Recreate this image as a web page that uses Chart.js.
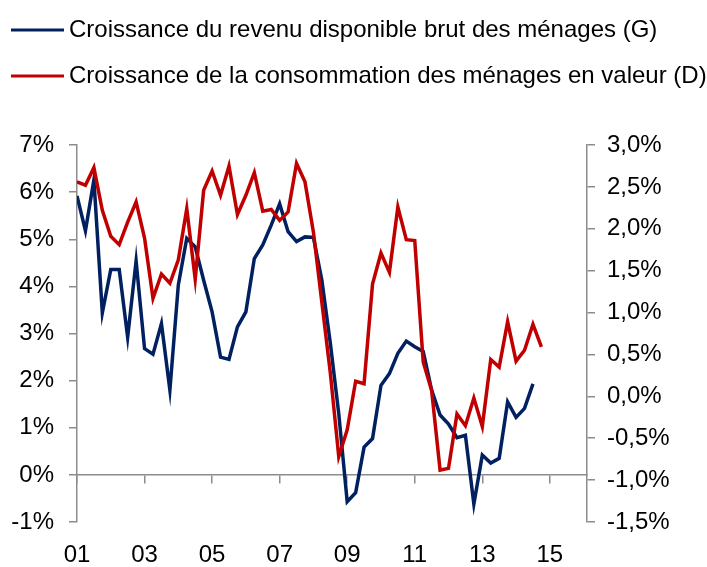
<!DOCTYPE html>
<html><head><meta charset="utf-8">
<script src="https://cdn.jsdelivr.net/npm/chart.js@4/dist/chart.umd.min.js"></script>
<style>html,body{margin:0;padding:0;background:#fff}#wrap{position:relative;width:707px;height:567px}</style>
</head><body><div id="wrap"><canvas id="c" width="707" height="567"></canvas></div>
<script>
const quarters = [
 '2001T1','2001T2','2001T3','2001T4','2002T1','2002T2','2002T3','2002T4',
 '2003T1','2003T2','2003T3','2003T4','2004T1','2004T2','2004T3','2004T4',
 '2005T1','2005T2','2005T3','2005T4','2006T1','2006T2','2006T3','2006T4',
 '2007T1','2007T2','2007T3','2007T4','2008T1','2008T2','2008T3','2008T4',
 '2009T1','2009T2','2009T3','2009T4','2010T1','2010T2','2010T3','2010T4',
 '2011T1','2011T2','2011T3','2011T4','2012T1','2012T2','2012T3','2012T4',
 '2013T1','2013T2','2013T3','2013T4','2014T1','2014T2','2014T3','2014T4'
];
const yearTicks = ['01','03','05','07','09','11','13','15'];
// Croissance du revenu disponible brut (axe gauche, %)
const revenu = [
 5.92,5.18,6.26,3.44,4.36,4.36,2.92,4.54,
 2.68,2.56,3.21,1.80,4.03,5.02,4.84,4.13,
 3.46,2.50,2.45,3.14,3.46,4.59,4.88,5.30,
 5.75,5.16,4.95,5.05,5.04,4.13,2.80,1.30,
 -0.57,-0.38,0.59,0.77,1.90,2.15,2.58,2.84,
 2.72,2.62,1.80,1.27,1.08,0.79,0.84,-0.62,
 0.42,0.25,0.35,1.55,1.22,1.41,1.93
];
// Croissance de la consommation en valeur (axe droit, %)
const consommation = [
 2.56,2.52,2.73,2.22,1.91,1.81,2.08,2.32,
 1.89,1.17,1.46,1.35,1.63,2.24,1.40,2.46,
 2.69,2.40,2.75,2.17,2.40,2.67,2.21,2.23,
 2.10,2.20,2.78,2.56,1.96,1.12,0.28,-0.72,
 -0.40,0.18,0.15,1.34,1.71,1.48,2.26,1.87,
 1.86,0.41,0.07,-0.88,-0.86,-0.21,-0.35,-0.02,
 -0.36,0.44,0.35,0.89,0.42,0.55,0.86,0.59
];
const seriesLabels = [
 'Croissance du revenu disponible brut des ménages (G)',
 'Croissance de la consommation des ménages en valeur (D)'
];

const FONT = 'Liberation Sans, Arial, sans-serif';
const axisColor = '#8c8c8c';
const xMax = 60.4;
// one tick every 8 quarters (every 2 years), at the quarter index of each year label
const setYearTicks = s => { s.ticks = yearTicks.map((_, i) => ({ value: i * 8 })); };

const legendPlugin = {
  id: 'lineLegend',
  afterDraw(chart) {
    const ctx = chart.ctx;
    ctx.save();
    ctx.font = '24px ' + FONT;
    ctx.textBaseline = 'middle';
    ctx.textAlign = 'left';
    [0, 1].forEach(i => {
      const ds = chart.data.datasets[i];
      const y = 30 + 46 * i;
      ctx.strokeStyle = ds.borderColor;
      ctx.lineWidth = 3;
      ctx.beginPath(); ctx.moveTo(11, y); ctx.lineTo(64, y); ctx.stroke();
      ctx.fillStyle = '#000';
      ctx.fillText(ds.label, 69, y);
    });
    ctx.restore();
  }
};

new Chart(document.getElementById('c'), {
  type: 'line',
  data: {
    datasets: [
      { label: seriesLabels[0], data: revenu.map((v, i) => ({ x: i, y: v })),
        borderColor: '#002060', backgroundColor: '#002060', borderWidth: 3.5,
        pointRadius: 0, tension: 0, yAxisID: 'y', xAxisID: 'x', order: 2 },
      { label: seriesLabels[1], data: consommation.map((v, i) => ({ x: i, y: v })),
        borderColor: '#C00000', backgroundColor: '#C00000', borderWidth: 3.5,
        pointRadius: 0, tension: 0, yAxisID: 'y1', xAxisID: 'x', order: 1 }
    ]
  },
  options: {
    responsive: false, animation: false, devicePixelRatio: 1,
    layout: { padding: { top: 145, left: 0, right: 0, bottom: 0 } },
    plugins: { legend: { display: false }, tooltip: { enabled: false } },
    scales: {
      x: {
        type: 'linear', position: 'bottom', min: 0, max: xMax,
        grid: { display: false, drawTicks: false }, border: { display: false },
        ticks: { autoSkip: false, maxRotation: 0, padding: 19, color: '#000',
                 font: { size: 24, family: FONT },
                 callback: v => yearTicks[Math.round(v / 8)] ?? '' },
        afterBuildTicks: setYearTicks,
        afterFit: s => { s.height = 45; }
      },
      x0: {
        type: 'linear', position: { y: 0 }, min: 0, max: xMax,
        grid: { display: true, drawOnChartArea: false, drawTicks: true, tickLength: 8,
                color: axisColor, lineWidth: 1.5 },
        border: { display: true, color: axisColor, width: 1.5 },
        ticks: { display: false },
        afterBuildTicks: setYearTicks
      },
      y: {
        type: 'linear', position: 'left', min: -1, max: 7,
        grid: { drawOnChartArea: false, drawTicks: true, tickLength: 8, color: axisColor, lineWidth: 1.5 },
        border: { display: true, color: axisColor, width: 1.5 },
        ticks: { stepSize: 1, padding: 15, color: '#000', font: { size: 24, family: FONT },
                 callback: v => v + '%' },
        afterFit: s => { s.width = 77; }
      },
      y1: {
        type: 'linear', position: 'right', min: -1.5, max: 3,
        grid: { drawOnChartArea: false, drawTicks: true, tickLength: 8, color: axisColor, lineWidth: 1.5 },
        border: { display: true, color: axisColor, width: 1.5 },
        ticks: { stepSize: 0.5, padding: 12, color: '#000', font: { size: 24, family: FONT },
                 callback: v => v.toFixed(1).replace('.', ',') + '%' },
        afterFit: s => { s.width = 120; }
      }
    }
  },
  plugins: [legendPlugin]
});
</script>
</body></html>
